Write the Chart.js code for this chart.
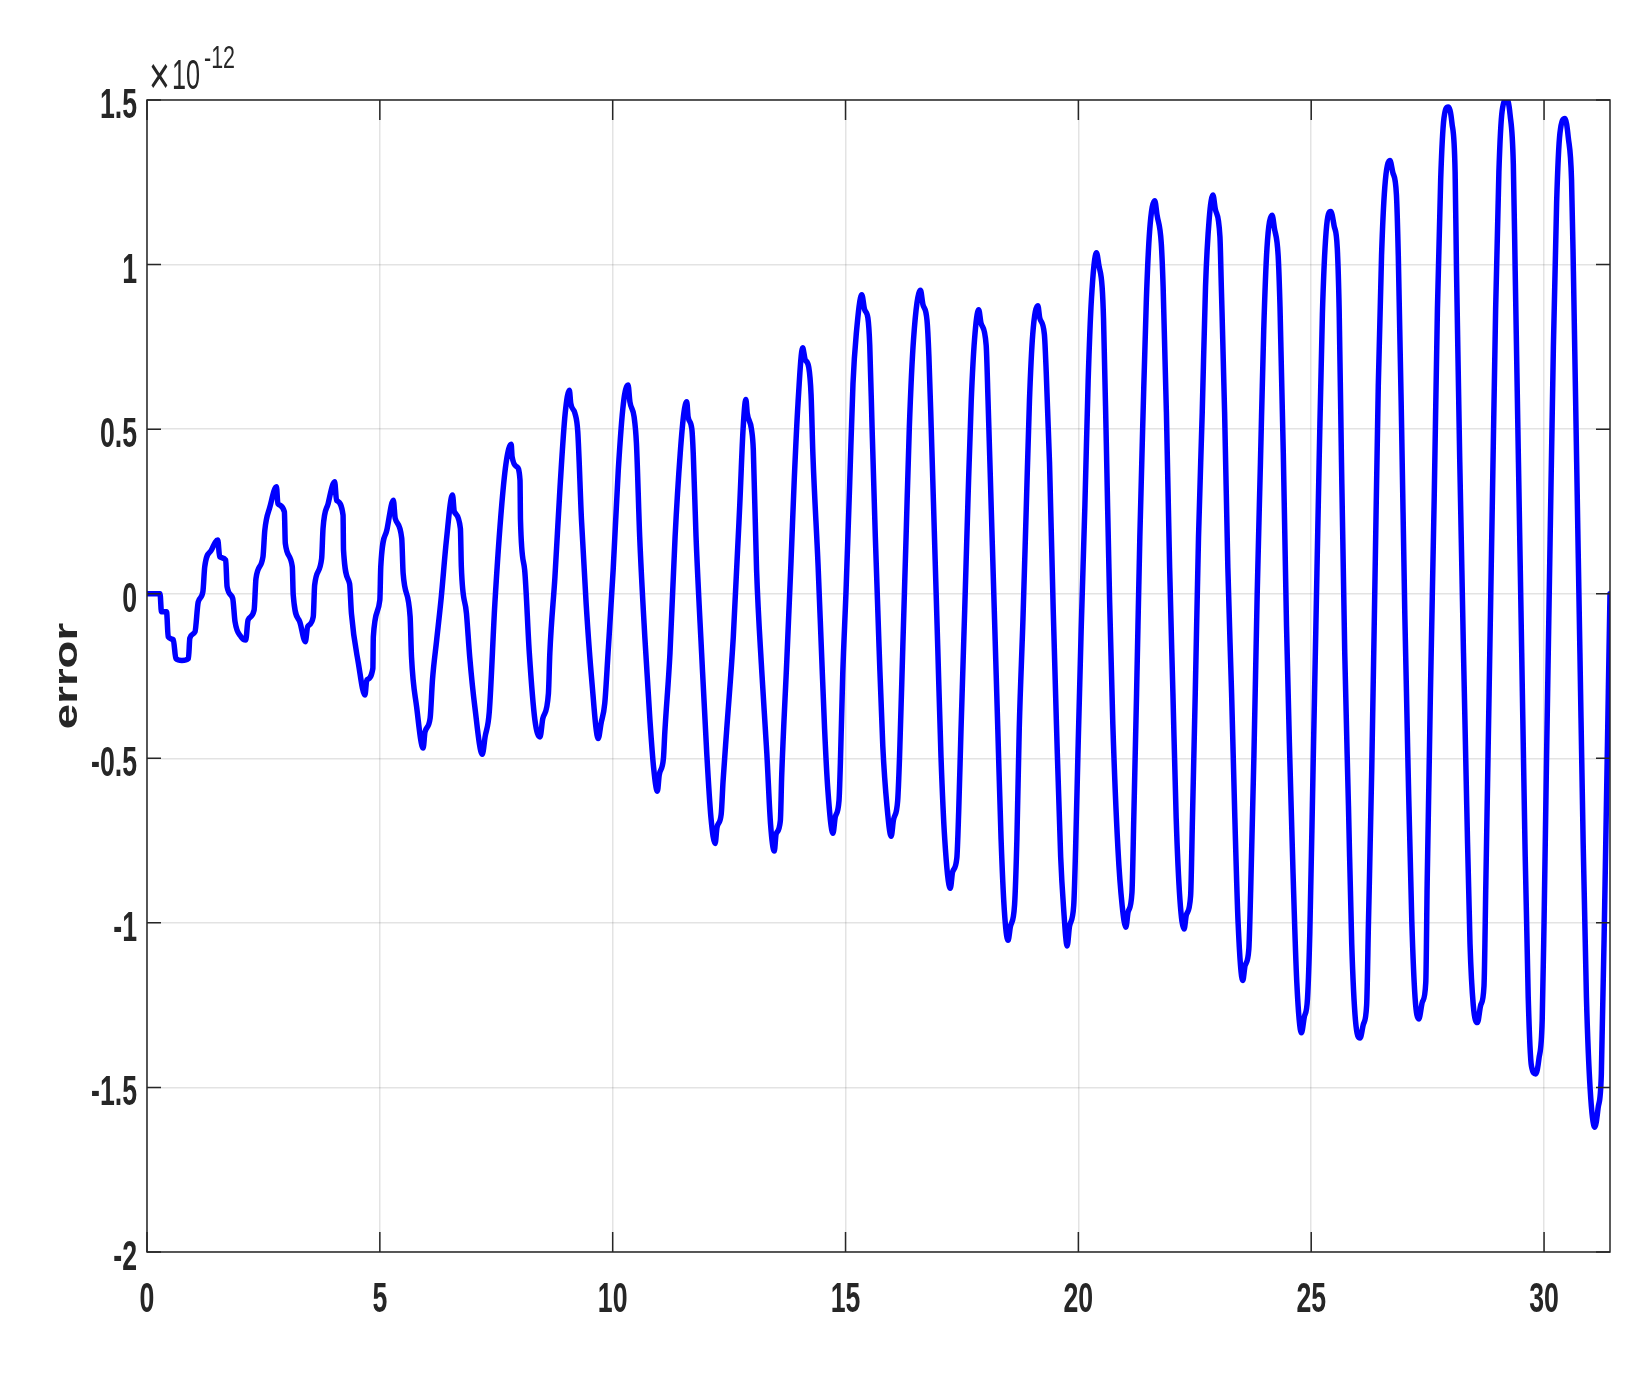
<!DOCTYPE html>
<html>
<head>
<meta charset="utf-8">
<title>error</title>
<script src="https://cdn.jsdelivr.net/npm/chart.js@4.4.1/dist/chart.umd.min.js"></script>
<style>
  html, body { margin: 0; padding: 0; background: #ffffff; }
  #wrap { width: 1647px; height: 1374px; position: relative; }
</style>
</head>
<body>
<div id="wrap"><canvas id="errorChart" width="1647" height="1374"></canvas></div>
<script>
// time samples (x) and error values (in units of 1e-12)
const timeValues = [
  0, 0.28, 0.31, 0.42, 0.455, 0.565, 0.62, 0.75, 0.89, 0.92, 1.03, 1.1, 1.2, 1.24, 1.38, 1.52, 1.56, 1.69, 1.72, 1.84,
  1.89, 2.02, 2.12, 2.17, 2.3, 2.34, 2.49, 2.53, 2.64, 2.78, 2.81, 2.95, 2.97, 3.12, 3.14, 3.28, 3.4, 3.45, 3.57, 3.6,
  3.75, 3.78, 3.89, 4.03, 4.07, 4.21, 4.22, 4.35, 4.39, 4.54, 4.68, 4.72, 4.85, 4.86, 5.0, 5.02, 5.15, 5.29, 5.33, 5.47,
  5.5, 5.65, 5.68, 5.79, 5.93, 5.97, 6.08, 6.13, 6.22, 6.32, 6.43, 6.56, 6.6, 6.73, 6.75, 6.86, 6.93, 7.04, 7.2, 7.26,
  7.35, 7.47, 7.62, 7.72, 7.82, 7.84, 7.94, 8.01, 8.02, 8.11, 8.21, 8.33, 8.44, 8.5, 8.62, 8.65, 8.76, 8.87, 8.98, 9.07,
  9.1, 9.19, 9.25, 9.33, 9.43, 9.55, 9.69, 9.75, 9.83, 9.9, 10.01, 10.12, 10.23, 10.33, 10.37, 10.46, 10.51, 10.58, 10.69, 10.8,
  10.88, 10.96, 11.0, 11.09, 11.12, 11.23, 11.34, 11.45, 11.53, 11.59, 11.62, 11.7, 11.73, 11.79, 11.91, 12.02, 12.11, 12.2, 12.24, 12.33,
  12.37, 12.45, 12.59, 12.73, 12.8, 12.86, 12.89, 12.98, 13.02, 13.09, 13.2, 13.31, 13.39, 13.47, 13.51, 13.6, 13.63, 13.74, 13.83, 13.9,
  13.98, 14.08, 14.13, 14.21, 14.26, 14.3, 14.41, 14.48, 14.55, 14.62, 14.73, 14.78, 14.86, 14.89, 14.94, 15.01, 15.09, 15.16, 15.23, 15.35,
  15.41, 15.48, 15.52, 15.57, 15.64, 15.72, 15.8, 15.89, 15.98, 16.03, 16.12, 16.16, 16.23, 16.3, 16.37, 16.46, 16.61, 16.66, 16.75, 16.79,
  16.84, 16.91, 16.98, 17.05, 17.13, 17.25, 17.3, 17.39, 17.43, 17.48, 17.56, 17.63, 17.7, 17.77, 17.86, 17.91, 18.02, 18.06, 18.13, 18.2,
  18.27, 18.34, 18.41, 18.49, 18.54, 18.63, 18.68, 18.73, 18.81, 18.88, 18.95, 19.02, 19.13, 19.17, 19.27, 19.31, 19.38, 19.46, 19.53, 19.62,
  19.68, 19.76, 19.81, 19.9, 19.94, 19.99, 20.06, 20.14, 20.21, 20.28, 20.39, 20.44, 20.51, 20.54, 20.6, 20.67, 20.74, 20.85, 20.94, 21.02,
  21.07, 21.15, 21.19, 21.25, 21.32, 21.39, 21.46, 21.53, 21.64, 21.69, 21.78, 21.82, 21.89, 21.96, 22.03, 22.1, 22.18, 22.27, 22.32, 22.41,
  22.45, 22.51, 22.58, 22.66, 22.73, 22.81, 22.89, 22.94, 23.04, 23.07, 23.14, 23.21, 23.29, 23.36, 23.43, 23.53, 23.58, 23.66, 23.7, 23.77,
  23.84, 23.91, 23.98, 24.05, 24.16, 24.21, 24.29, 24.33, 24.4, 24.47, 24.54, 24.61, 24.69, 24.79, 24.85, 24.92, 24.97, 25.04, 25.1, 25.17,
  25.24, 25.32, 25.42, 25.49, 25.56, 25.6, 25.65, 25.72, 25.8, 25.87, 25.95, 26.05, 26.12, 26.19, 26.23, 26.3, 26.37, 26.44, 26.51, 26.58,
  26.69, 26.75, 26.83, 26.87, 26.94, 27.01, 27.08, 27.16, 27.23, 27.31, 27.39, 27.46, 27.49, 27.56, 27.64, 27.71, 27.78, 27.85, 27.94, 28.02,
  28.09, 28.12, 28.19, 28.27, 28.34, 28.41, 28.48, 28.57, 28.64, 28.71, 28.75, 28.82, 28.89, 28.96, 29.03, 29.1, 29.2, 29.27, 29.34, 29.38,
  29.45, 29.52, 29.59, 29.66, 29.73, 29.82, 29.89, 29.96, 30.0, 30.05, 30.13, 30.2, 30.27, 30.34, 30.45, 30.52, 30.59, 30.63, 30.7, 30.77,
  30.84, 30.91, 30.99, 31.09, 31.16, 31.23, 31.31, 31.38, 31.416
];
const errorValues = [
  0, 0, -0.055, -0.055, -0.131, -0.14, -0.197, -0.203, -0.197, -0.135, -0.116, -0.025, 0.006, 0.082, 0.132, 0.163, 0.112, 0.102, 0.021, -0.014,
  -0.085, -0.131, -0.141, -0.08, -0.05, 0.046, 0.112, 0.193, 0.264, 0.325, 0.274, 0.249, 0.153, 0.082, -0.004, -0.085, -0.146, -0.1, -0.07, 0.026,
  0.107, 0.198, 0.274, 0.34, 0.284, 0.239, 0.132, 0.031, -0.06, -0.212, -0.308, -0.262, -0.227, -0.131, -0.019, 0.082, 0.193, 0.284, 0.229, 0.168,
  0.062, -0.07, -0.192, -0.344, -0.469, -0.42, -0.378, -0.262, -0.141, -0.009, 0.163, 0.3, 0.249, 0.198, 0.082, -0.06, -0.192, -0.344, -0.488, -0.435,
  -0.359, -0.03, 0.274, 0.406, 0.454, 0.416, 0.386, 0.345, 0.224, 0.072, -0.181, -0.384, -0.435, -0.379, -0.303, -0.181, 0.051, 0.325, 0.548, 0.618,
  0.578, 0.548, 0.492, 0.224, -0.03, -0.262, -0.44, -0.394, -0.333, -0.181, 0.072, 0.375, 0.578, 0.634, 0.583, 0.537, 0.457, 0.173, -0.131, -0.384,
  -0.53, -0.6, -0.55, -0.5, -0.42, -0.181, 0.173, 0.426, 0.55, 0.583, 0.537, 0.5, 0.426, 0.173, -0.181, -0.485, -0.68, -0.759, -0.71, -0.67,
  -0.57, -0.41, -0.131, 0.274, 0.5, 0.59, 0.548, 0.5, 0.436, 0.072, -0.232, -0.485, -0.7, -0.782, -0.73, -0.69, -0.55, -0.2, 0.1, 0.35,
  0.58, 0.747, 0.713, 0.688, 0.605, 0.42, 0.088, -0.162, -0.41, -0.595, -0.728, -0.678, -0.628, -0.512, -0.245, 0.005, 0.338, 0.638, 0.788, 0.908,
  0.863, 0.838, 0.755, 0.505, 0.172, -0.162, -0.462, -0.645, -0.737, -0.687, -0.628, -0.495, -0.162, 0.172, 0.505, 0.772, 0.922, 0.88, 0.83, 0.722,
  0.505, 0.172, -0.162, -0.495, -0.745, -0.895, -0.845, -0.803, -0.662, -0.412, -0.045, 0.288, 0.588, 0.772, 0.863, 0.822, 0.755, 0.588, 0.255, -0.078,
  -0.412, -0.745, -0.962, -1.053, -1.012, -0.945, -0.745, -0.412, -0.078, 0.255, 0.588, 0.788, 0.875, 0.838, 0.788, 0.672, 0.4, -0.05, -0.4, -0.8,
  -0.95, -1.07, -1.01, -0.947, -0.776, -0.49, -0.11, 0.268, 0.647, 0.894, 1.036, 0.998, 0.932, 0.837, 0.457, -0.017, -0.397, -0.776, -0.947, -1.013,
  -0.966, -0.909, -0.681, -0.302, 0.173, 0.552, 0.894, 1.102, 1.194, 1.15, 1.065, 0.932, 0.552, 0.078, -0.302, -0.681, -0.928, -1.019, -0.975, -0.918,
  -0.681, -0.302, 0.173, 0.552, 0.932, 1.14, 1.211, 1.169, 1.084, 0.932, 0.552, 0.078, -0.302, -0.681, -1.0, -1.175, -1.13, -1.08, -0.9, -0.49,
  0.0, 0.4, 0.8, 1.05, 1.15, 1.11, 1.027, 0.87, 0.43, -0.1, -0.5, -0.85, -1.18, -1.334, -1.287, -1.23, -1.03, -0.53, -0.1, 0.4,
  0.85, 1.1, 1.161, 1.119, 1.049, 0.864, 0.4, -0.18, -0.646, -1.064, -1.296, -1.35, -1.308, -1.25, -0.995, -0.53, 0.05, 0.631, 1.026, 1.235,
  1.316, 1.281, 1.212, 1.026, 0.515, -0.065, -0.53, -0.995, -1.227, -1.292, -1.239, -1.181, -0.879, -0.298, 0.283, 0.864, 1.258, 1.444, 1.479, 1.432,
  1.281, 0.98, 0.4, -0.18, -0.646, -1.064, -1.25, -1.303, -1.25, -1.192, -0.879, -0.298, 0.283, 0.864, 1.281, 1.467, 1.502, 1.456, 1.305, 0.98,
  0.4, -0.18, -0.76, -1.227, -1.436, -1.459, -1.413, -1.296, -0.995, -0.53, 0.166, 0.748, 1.189, 1.398, 1.444, 1.386, 1.258, 0.98, 0.4, -0.18,
  -0.76, -1.227, -1.505, -1.621, -1.563, -1.459, -0.879, -0.3, 0
];

const xTickValues = [0, 5, 10, 15, 20, 25, 30];
const xTickLabels = ['0', '5', '10', '15', '20', '25', '30'];
const yTickValues = [1.5, 1, 0.5, 0, -0.5, -1, -1.5, -2];
const yTickLabels = ['1.5', '1', '0.5', '0', '-0.5', '-1', '-1.5', '-2'];
const xMax = 10 * Math.PI;
const yLabel = 'error';

const points = timeValues.map((t, i) => ({ x: t, y: errorValues[i] }));

const axisColor = '#262626';
const gridColor = 'rgba(0,0,0,0.11)';

// draws text squeezed/stretched horizontally like the original figure
function drawScaledText(ctx, text, x, y, font, align, sx) {
    ctx.save();
    ctx.translate(x, y);
    ctx.scale(sx, 1);
    ctx.font = font;
    ctx.textAlign = align;
    ctx.textBaseline = 'alphabetic';
    ctx.fillText(text, 0, 0);
    ctx.restore();
}

const matlabFrame = {
    id: 'matlabFrame',
    afterDraw(chart) {
        const ctx = chart.ctx;
        const a = chart.chartArea;
        const xs = chart.scales.x;
        const ys = chart.scales.y;

        ctx.save();
        ctx.strokeStyle = axisColor;
        ctx.lineWidth = 1.5;
        ctx.strokeRect(a.left, a.top, a.right - a.left, a.bottom - a.top);

        // inward ticks on all four sides
        ctx.beginPath();
        xTickValues.forEach(v => {
            const px = xs.getPixelForValue(v);
            ctx.moveTo(px, a.bottom); ctx.lineTo(px, a.bottom - 20);
            ctx.moveTo(px, a.top); ctx.lineTo(px, a.top + 20);
        });
        yTickValues.forEach(v => {
            const py = ys.getPixelForValue(v);
            ctx.moveTo(a.left, py); ctx.lineTo(a.left + 14, py);
            ctx.moveTo(a.right, py); ctx.lineTo(a.right - 14, py);
        });
        ctx.stroke();

        // tick labels
        ctx.fillStyle = axisColor;
        const tickFont = 'bold 43px "Liberation Sans", Arial, sans-serif';
        yTickValues.forEach((v, i) => {
            drawScaledText(ctx, yTickLabels[i], a.left - 10, ys.getPixelForValue(v) + 18, tickFont, 'right', 0.62);
        });
        xTickValues.forEach((v, i) => {
            drawScaledText(ctx, xTickLabels[i], xs.getPixelForValue(v), a.bottom + 60, tickFont, 'center', 0.62);
        });

        // exponent label
        const expFont = '42px "Liberation Sans", Arial, sans-serif';
        drawScaledText(ctx, '\u00d7', a.left + 2, a.top - 6, '54px "Liberation Sans", Arial, sans-serif', 'left', 0.66);
        drawScaledText(ctx, '10', a.left + 25, a.top - 11, expFont, 'left', 0.6);
        drawScaledText(ctx, '-12', a.left + 57, a.top - 32, '32px "Liberation Sans", Arial, sans-serif', 'left', 0.67);

        // y axis title, rotated
        ctx.save();
        ctx.translate(77, (a.top + a.bottom) / 2);
        ctx.rotate(-Math.PI / 2);
        ctx.scale(1.38, 1);
        ctx.font = 'bold 33px "Liberation Sans", Arial, sans-serif';
        ctx.textAlign = 'center';
        ctx.textBaseline = 'alphabetic';
        ctx.fillText(yLabel, 0, 0);
        ctx.restore();

        ctx.restore();
    }
};

const ctx = document.getElementById('errorChart').getContext('2d');
new Chart(ctx, {
    type: 'line',
    data: {
        datasets: [{
            data: points,
            borderColor: '#0000ff',
            borderWidth: 5.5,
            pointRadius: 0,
            fill: false,
            cubicInterpolationMode: 'monotone',
            borderJoinStyle: 'round',
            borderCapStyle: 'round'
        }]
    },
    options: {
        responsive: false,
        animation: false,
        devicePixelRatio: 1,
        layout: { padding: { left: 147, right: 37, top: 100, bottom: 122 } },
        plugins: {
            legend: { display: false },
            tooltip: { enabled: false }
        },
        scales: {
            x: {
                type: 'linear',
                min: 0,
                max: xMax,
                ticks: { display: false, stepSize: 5, includeBounds: false },
                grid: { color: gridColor, lineWidth: 1.5, drawTicks: false },
                border: { display: false }
            },
            y: {
                type: 'linear',
                min: -2,
                max: 1.5,
                ticks: { display: false, stepSize: 0.5 },
                grid: { color: gridColor, lineWidth: 1.5, drawTicks: false },
                border: { display: false }
            }
        }
    },
    plugins: [matlabFrame]
});
</script>
</body>
</html>
